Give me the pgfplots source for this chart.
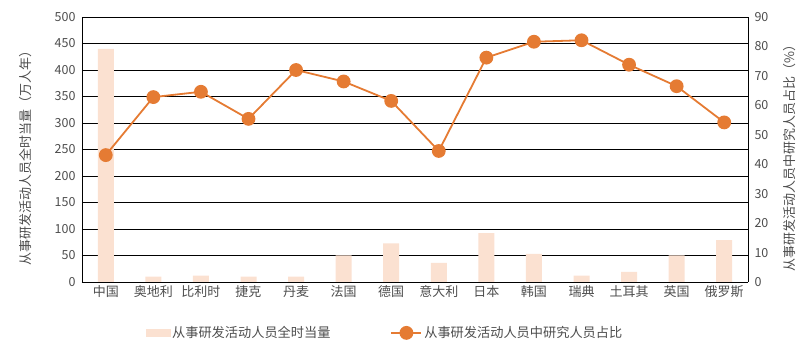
\documentclass[border=0pt]{standalone}
\usepackage{fontspec}
\setmainfont{Noto Sans CJK SC}
\usepackage{pgfplots}
\pgfplotsset{compat=1.18}
\definecolor{barc}{HTML}{FBE1D1}
\definecolor{linec}{HTML}{E57B33}
\definecolor{txt}{HTML}{4D4D4D}
\pgfplotsset{mylineleg/.style={legend image code/.code={\draw[##1, mark repeat=2, mark phase=2] plot coordinates {(0pt,0pt) (15pt,0pt) (30pt,0pt)};}}}

\begin{document}
\begin{tikzpicture}
\useasboundingbox (-82pt,-71pt) rectangle (730pt,282pt);
\begin{axis}[
  at={(0pt,0pt)}, anchor=south west,
  scale only axis, width=666pt, height=265pt,
  xmin=-0.5, xmax=13.5, ymin=0, ymax=500,
  ytick={0,50,...,500},
  xtick={0,...,13},
  xticklabels={中国,奥地利,比利时,捷克,丹麦,法国,德国,意大利,日本,韩国,瑞典,土耳其,英国,俄罗斯},
  ymajorgrids, grid style={black, line width=0.6pt},
  axis x line*=bottom, axis y line*=left,
  axis line style={black, line width=0.8pt, -},
  major tick length=0pt,
  tick label style={text=txt},
  yticklabel style={font=\fontsize{12.5}{14}\selectfont, xshift=-3pt},
  xticklabel style={font=\fontsize{13}{14}\selectfont},
  /pgf/number format/assume math mode=true,
  ylabel={从事研发活动人员全时当量（万人年）},
  ylabel style={at={(axis description cs:-0.084,0.48)}, anchor=center, rotate=0, font=\fontsize{13}{14}\selectfont, text=txt},
]
\addplot[ybar, bar width=16pt, fill=barc, draw=none] coordinates {
(0,440) (1,10) (2,12) (3,10) (4,10) (5,50) (6,73) (7,36) (8,92) (9,53) (10,12) (11,19) (12,50) (13,79)
};
\end{axis}
\begin{axis}[
  at={(0pt,0pt)}, anchor=south west,
  scale only axis, width=666pt, height=265pt,
  xmin=-0.5, xmax=13.5, ymin=0, ymax=90,
  ytick={0,10,...,90},
  axis y line*=right, axis x line=none,
  axis line style={black, line width=0.8pt, -},
  major tick length=0pt,
  tick label style={text=txt},
  yticklabel style={font=\fontsize{12.5}{14}\selectfont, xshift=3pt},
  /pgf/number format/assume math mode=true,
  ylabel={从事研发活动人员中研究人员占比（\%）},
  ylabel style={at={(axis description cs:1.063,0.48)}, anchor=center, rotate=0, font=\fontsize{13}{14}\selectfont, text=txt},
  legend columns=2,
  legend style={at={(axis description cs:0.455,-0.192)}, anchor=center, draw=none, fill=none,
    font=\fontsize{13.2}{15}\selectfont, text=txt, /tikz/every even column/.append style={column sep=58pt}},
]
\addlegendimage{legend image code/.code={\fill[barc] (0pt,-3.5pt) rectangle (24pt,3.5pt);}}
\addlegendentry{从事研发活动人员全时当量}
\addplot[linec, line width=1.8pt, mark=*, mark size=6pt, mark options={fill=linec, draw=linec}, mylineleg] coordinates {
(0,43.1) (1,62.8) (2,64.6) (3,55.4) (4,72.0) (5,68.1) (6,61.5) (7,44.5) (8,76.2) (9,81.6) (10,82.1) (11,73.8) (12,66.5) (13,54.2)
};
\addlegendentry{从事研发活动人员中研究人员占比}
\end{axis}
\end{tikzpicture}
\end{document}
